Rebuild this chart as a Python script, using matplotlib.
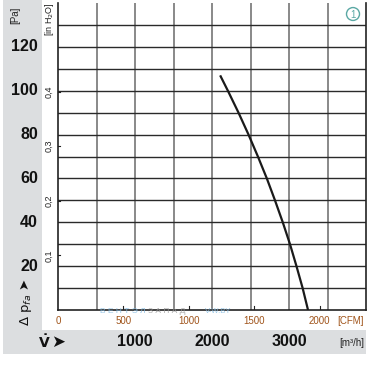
import matplotlib
matplotlib.use("Agg")
import matplotlib.pyplot as plt
from matplotlib.patches import Rectangle, Circle
import numpy as np

plt.rcParams['font.family'] = ['Liberation Sans Narrow', 'Liberation Sans', 'DejaVu Sans']

# Data: flow in m3/h, pressure in Pa
flow_m3h = [2106, 2206, 2344, 2474, 2596, 2712, 2818, 2919, 3013, 3097, 3177, 3247]
pressure_pa = [107, 100, 90, 80, 70, 60, 50, 40, 30, 20, 10, 0]

pa_ticks = [20, 40, 60, 80, 100, 120]
inh2o_ticks = [0.1, 0.2, 0.3, 0.4]
inh2o_labels = ["0,1", "0,2", "0,3", "0,4"]
cfm_ticks = [0, 500, 1000, 1500, 2000]
m3h_ticks = [1000, 2000, 3000]

W, H = 377, 374
fig = plt.figure(figsize=(W / 100, H / 100), dpi=100)
fig.patch.set_facecolor('white')

band = '#dcdee0'
fig.patches.append(Rectangle((3 / W, 1 - 354 / H), 39 / W, 354 / H, transform=fig.transFigure,
                             facecolor=band, edgecolor='none', zorder=0))
fig.patches.append(Rectangle((3 / W, 1 - 354 / H), 363 / W, 24 / H, transform=fig.transFigure,
                             facecolor=band, edgecolor='none', zorder=0))

ax = fig.add_axes([58 / W, 1 - 310 / H, 308 / W, 307 / H])
ax.set_xlim(0, 4000)
ax.set_ylim(0, 140)
ax.set_facecolor('white')

for xv in np.arange(500, 4000, 500):
    ax.axvline(xv, color='#808080', lw=1.3, zorder=1)
for yv in np.arange(10, 140, 10):
    ax.axhline(yv, color='#2a2a2a', lw=1.0, zorder=1)

for s in ['left', 'bottom', 'right', 'top']:
    ax.spines[s].set_color('#222222')
    ax.spines[s].set_linewidth(1.2)
ax.spines['top'].set_visible(False)

ax.plot(flow_m3h, pressure_pa, color='#1a1a1a', lw=1.6, zorder=3, solid_capstyle='butt')

ax.set_xticks([])
ax.set_yticks([])

# Pa labels
for v in pa_ticks:
    y = 1 - (310 - v * 307 / 140) / H
    fig.text(38 / W, y, str(v), ha='right', va='center', fontsize=11.5, fontweight='bold', color='#111111')
fig.text(15 / W, 1 - 15 / H, '[Pa]', rotation=90, ha='center', va='center', fontsize=7, color='#222222')

# inH2O labels
for v, lab in zip(inh2o_ticks, inh2o_labels):
    pa = v * 249.089
    ax.plot([0, 1.5 / 308 * 4000], [pa, pa], color='#222222', lw=0.8, clip_on=False)
    y = 1 - (310 - pa * 307 / 140) / H
    fig.text(49 / W, y, lab, rotation=90, ha='center', va='center', fontsize=6.5, color='#222222')
fig.text(49 / W, 1 - 19 / H, '[in H$_2$O]', rotation=90, ha='center', va='center', fontsize=6.5, color='#222222')

# CFM labels
cfm_col = '#a0541a'
for c in cfm_ticks:
    m3 = c * 1.699
    x = (58 + m3 / 4000 * 308) / W
    fig.text(x, 1 - 321 / H, str(c), ha='center', va='center', fontsize=7, color=cfm_col)
    if c > 0:
        ax.plot([m3, m3], [0, 2], color='#222222', lw=0.8)
fig.text(364 / W, 1 - 321 / H, '[CFM]', ha='right', va='center', fontsize=7, color=cfm_col)

# m3/h labels
for m in m3h_ticks:
    x = (58 + m / 4000 * 308) / W
    fig.text(x, 1 - 342 / H, str(m), ha='center', va='center', fontsize=11.5, fontweight='bold', color='#111111')
fig.text(364 / W, 1 - 343 / H, '[m³/h]', ha='right', va='center', fontsize=7, color='#222222')

# axis symbols
fig.text(44 / W, 1 - 342 / H, r'$\mathbf{\dot{V}}$', ha='center', va='center', fontsize=10,
         color='#111111')
fig.text(58 / W, 1 - 342 / H, '➤', ha='center', va='center', fontsize=12,
         color='#111111', family=['DejaVu Sans'])
fig.text(26 / W, 1 - 302 / H, 'Δ p$_{fa}$ ➤', rotation=90, ha='center', va='center', fontsize=9.5,
         color='#111111', family=['DejaVu Sans'])

# circled 1
circ = Circle((353 / W, 1 - 14 / H), 6.5 / W, transform=fig.transFigure, facecolor='white',
              edgecolor='#5aa8a4', lw=1.0, zorder=5)
fig.patches.append(circ)
fig.text(353 / W, 1 - 14.5 / H, '1', ha='center', va='center', fontsize=7, color='#5aa8a4', zorder=6)

# watermark
fig.text(100 / W, 1 - 311.5 / H, 'В Е Н Т Э Л', ha='left', va='center', fontsize=6, color='#7fb8e0', alpha=0.8)
fig.text(148 / W, 1 - 311.5 / H, 'З А П А Д', ha='left', va='center', fontsize=6, color='#9a9a9a', alpha=0.8)
fig.text(205 / W, 1 - 311.5 / H, 'V-W.BY', ha='left', va='center', fontsize=5.5, color='#7fb8e0', alpha=0.8)

fig.savefig('out.png', dpi=100)
